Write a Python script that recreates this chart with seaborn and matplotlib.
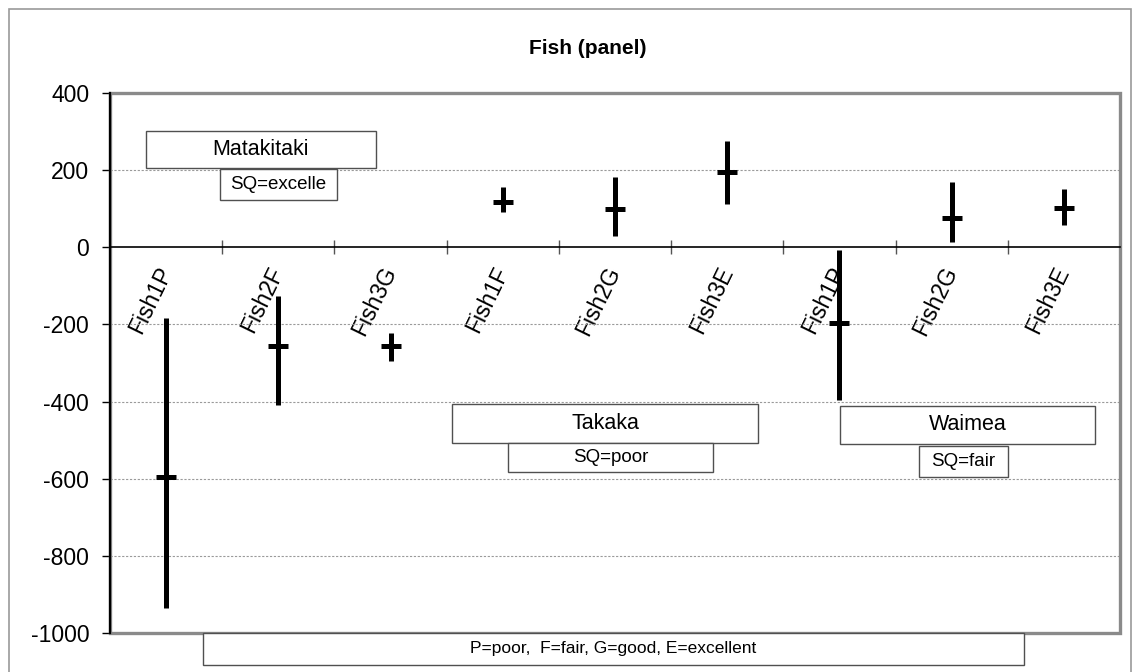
import numpy as np
import pandas as pd
import matplotlib
matplotlib.use("Agg")
import matplotlib.pyplot as plt
from matplotlib.patches import Rectangle
import seaborn as sns

# Fish panel scores per site: mean with low/high range
categories = ["Fish1P", "Fish2F", "Fish3G", "Fish1F", "Fish2G", "Fish3E", "Fish1P", "Fish2G", "Fish3E"]
means = [-595, -257, -255, 117, 99, 195, -197, 75, 101]
lows = [-935, -410, -296, 91, 29, 112, -397, 13, 57]
highs = [-184, -125, -223, 156, 182, 275, -8, 169, 151]
yticks = [400, 200, 0, -200, -400, -600, -800, -1000]

sns.set_style("white")
plt.rcParams["font.family"] = ["Liberation Sans", "DejaVu Sans"]
plt.rcParams["text.color"] = "black"
plt.rcParams["xtick.color"] = "black"
plt.rcParams["ytick.color"] = "black"
plt.rcParams["axes.labelcolor"] = "black"

W, H = 1141, 672
fig = plt.figure(figsize=(W / 100, H / 100), dpi=100)


def fx(px):
    return px / W


def fy(py):
    return 1 - py / H


ax = fig.add_axes([fx(110), fy(633), fx(1120) - fx(110), fy(93) - fy(633)])

# long-form table: low / mean / high for each position; median gives the mean,
# the full percentile interval gives the low-high range
rows = []
for i in range(len(categories)):
    for v in (lows[i], means[i], highs[i]):
        rows.append({"pos": i, "value": v})
df = pd.DataFrame(rows)

sns.pointplot(
    data=df, x="pos", y="value", estimator="median", errorbar=("pi", 100),
    color="black", marker="_", markersize=14.5, markeredgewidth=3.6,
    linestyle="none", err_kws={"linewidth": 3.6, "solid_capstyle": "butt"},
    ax=ax, zorder=5,
)

ax.set_ylim(-1000, 400)
ax.set_xlim(-0.5, len(categories) - 0.5)
ax.set_xlabel("")
ax.set_ylabel("")

# dashed horizontal gridlines
for v in yticks:
    if v not in (0, 400, -1000):
        ax.axhline(v, color="#9a9a9a", lw=0.8, ls=(0, (2, 1.5)), zorder=0.8)

# y axis
ax.set_yticks(yticks)
ax.set_yticklabels([str(v) for v in yticks], fontsize=16.5)
ax.tick_params(axis="y", which="major", direction="out", length=6, width=1,
               color="black", pad=9, left=True, labelcolor="black")

# category axis sits on the zero line
ax.spines["bottom"].set_position(("data", 0))
ax.spines["bottom"].set_color("black")
ax.spines["bottom"].set_linewidth(1.2)
ax.spines["left"].set_color("black")
ax.spines["left"].set_linewidth(1.6)
ax.spines["top"].set_visible(False)
ax.spines["right"].set_visible(False)
for s in ax.spines.values():
    s.set_zorder(3)

ax.set_xticks(range(len(categories)))
ax.set_xticklabels(categories, fontsize=16.5, rotation=64, ha="right",
                   va="center", rotation_mode="anchor")
ax.tick_params(axis="x", which="major", length=0, pad=15, bottom=True,
               labelcolor="black")
ax.set_xticks(np.arange(0.5, len(categories), 1.0), minor=True)
ax.tick_params(axis="x", which="minor", direction="inout", length=10,
               width=1, color="#555555", bottom=True)

# gray plot-area frame
ax.add_patch(Rectangle((0, 0), 1, 1, transform=ax.transAxes, fill=False,
                       edgecolor="#8a8a8a", lw=2.4, clip_on=False, zorder=1))

# outer chart border
fig.add_artist(Rectangle((fx(9), fy(700)), fx(1131) - fx(9), fy(9) - fy(700),
                         transform=fig.transFigure, fill=False,
                         edgecolor="#9a9a9a", lw=1.2))

fig.text(fx(588), fy(48), "Fish (panel)", ha="center", va="center",
         fontsize=15, fontweight="bold", color="black")


def label_box(x0, y0, x1, y1, text, size):
    fig.add_artist(Rectangle((fx(x0), fy(y1)), fx(x1) - fx(x0), fy(y0) - fy(y1),
                             transform=fig.transFigure, facecolor="white",
                             edgecolor="#505050", lw=1.0, zorder=6))
    fig.text(fx((x0 + x1) / 2), fy((y0 + y1) / 2), text, ha="center",
             va="center", fontsize=size, zorder=7, color="black")


label_box(146, 131, 376, 168, "Matakitaki", 15.5)
label_box(220, 169, 337, 200, "SQ=excelle", 13.5)
label_box(452, 404, 758, 443, "Takaka", 15.5)
label_box(508, 443, 713, 472, "SQ=poor", 13.5)
label_box(840, 406, 1095, 444, "Waimea", 15.5)
label_box(919, 446, 1008, 477, "SQ=fair", 13.5)
label_box(203, 633, 1024, 665, "P=poor,  F=fair, G=good, E=excellent", 12.5)

fig.savefig("out.png", dpi=100)
